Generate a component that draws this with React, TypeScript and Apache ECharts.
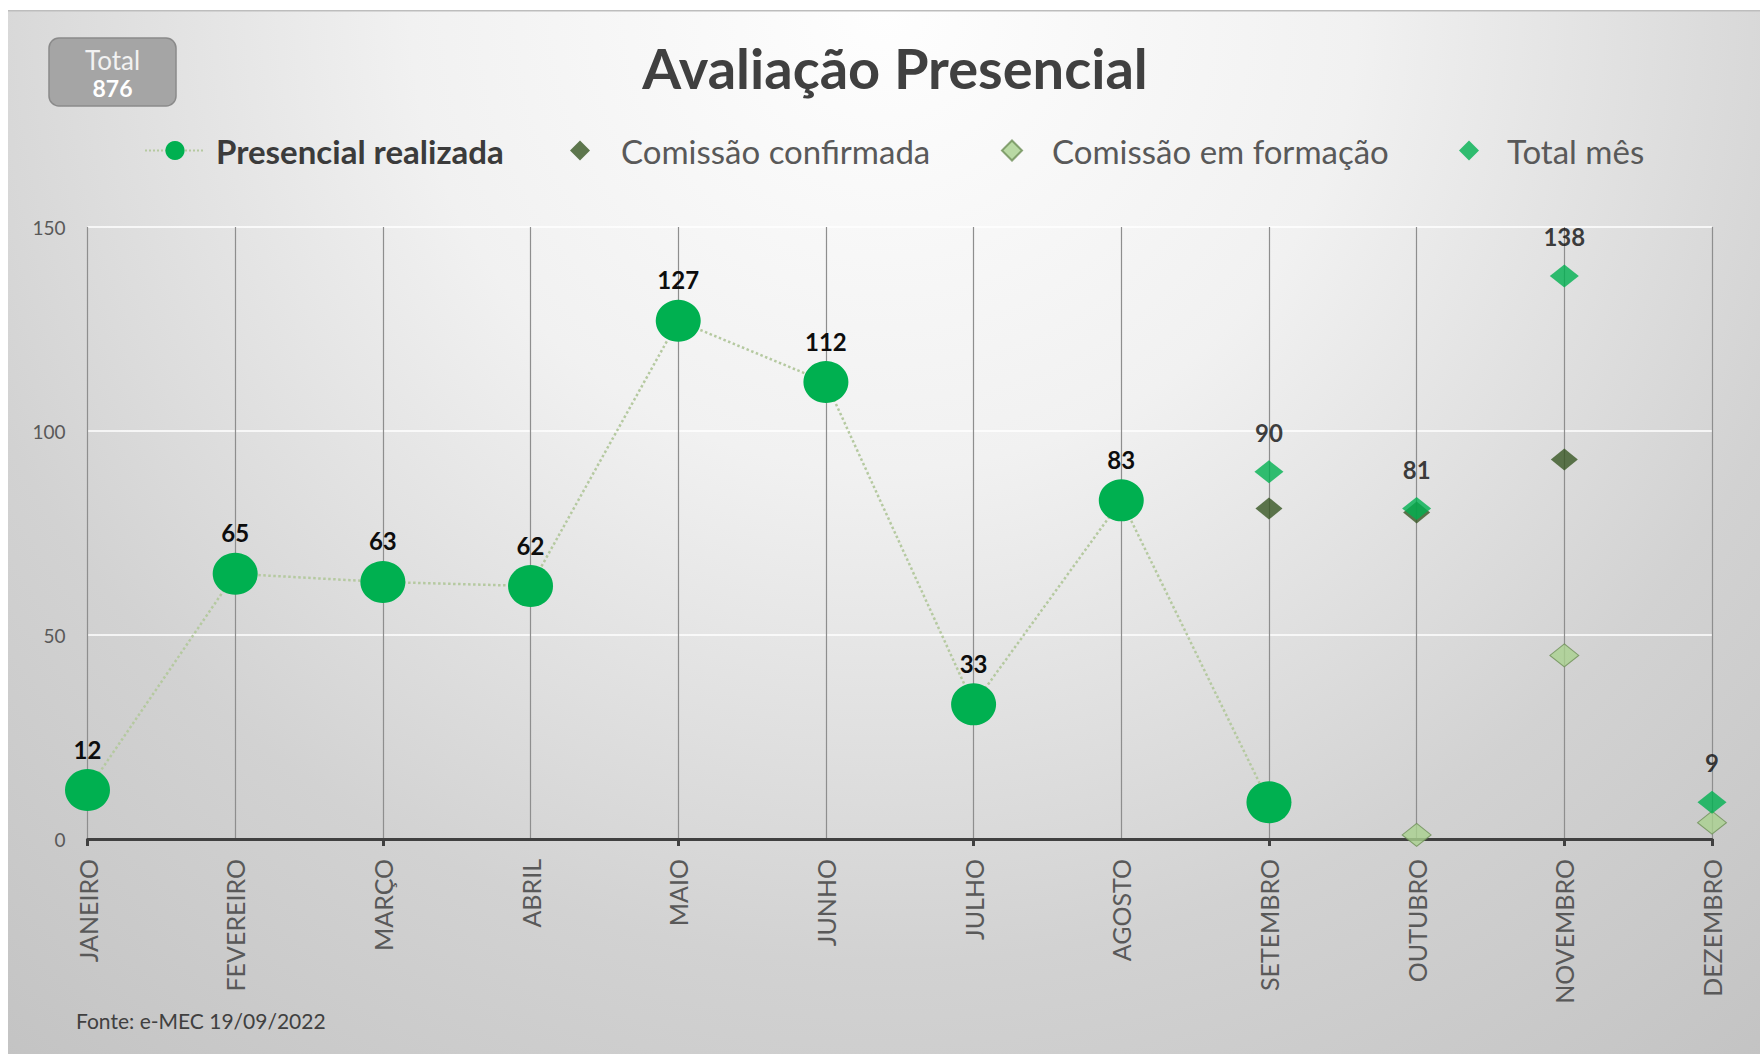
import React, { useEffect, useRef } from "react";
import * as echarts from "echarts";

const months = ["JANEIRO", "FEVEREIRO", "MARÇO", "ABRIL", "MAIO", "JUNHO", "JULHO", "AGOSTO", "SETEMBRO", "OUTUBRO", "NOVEMBRO", "DEZEMBRO"];
const presencial = [12, 65, 63, 62, 127, 112, 33, 83, 9, null, null, null];
const presencialShowLabel = [true, true, true, true, true, true, true, true, false, false, false, false];
const confirmada = [null, null, null, null, null, null, null, null, 81, 80, 93, null];
const formacao = [null, null, null, null, null, null, null, null, null, 1, 45, 4];
const totalMes = [null, null, null, null, null, null, null, null, 90, 81, 138, 9];
const yTicks = { min: 0, max: 150, interval: 50 };
const totalGeral = 876;
const FONT = "Lato";

export default function App() {
  const ref = useRef<HTMLDivElement>(null);
  useEffect(() => {
    document.body.style.margin = "0";
    const chart = echarts.init(ref.current!, null, { renderer: "svg" });
    const labelBase = { show: true, position: "top", color: "#0d0d0d", fontWeight: "bold", fontSize: 24, fontFamily: FONT };
    const legendText = (pad: number, bold = false) => ({
      fontSize: 33, fontWeight: bold ? "bold" : "normal", color: bold ? "#3b3b3b" : "#595959", fontFamily: FONT, padding: [0, 0, 0, pad],
    });
    chart.setOption({
      animation: false,
      textStyle: { fontFamily: FONT },
      grid: { left: 87.5, right: 48, top: 227, bottom: 215, containLabel: false },
      graphic: [
        {
          type: "rect", z: -10, silent: true,
          shape: { x: 8, y: 10, width: 1752, height: 1700 },
          style: {
            fill: new echarts.graphic.RadialGradient(0.5, 0, 1, [
              { offset: 0, color: "#fefefe" },
              { offset: 0.27, color: "#f1f1f1" },
              { offset: 0.56, color: "#d2d2d2" },
              { offset: 0.8, color: "#c3c3c3" },
              { offset: 1, color: "#bababa" },
            ]),
          },
        },
        { type: "rect", z: -9, silent: true, shape: { x: 8, y: 10, width: 1752, height: 1.5 }, style: { fill: "#bdbdbd" } },
        {
          type: "rect", z: 5, shape: { x: 49, y: 38, width: 127, height: 68, r: 10 },
          style: { fill: "#a5a5a5", stroke: "#8a8a8a", lineWidth: 1.5 },
        },
        { type: "text", z: 6, x: 112.5, y: 60, style: { text: "Total", fill: "#f2f2f2", fontSize: 26, fontFamily: FONT, align: "center", verticalAlign: "middle" } },
        { type: "text", z: 6, x: 112.5, y: 88, style: { text: String(totalGeral), fill: "#ffffff", fontSize: 23, fontWeight: "bold", fontFamily: FONT, align: "center", verticalAlign: "middle" } },
        { type: "text", z: 6, x: 895, y: 67, style: { text: "Avaliação Presencial", fill: "#404040", fontSize: 56, fontWeight: "bold", fontFamily: FONT, align: "center", verticalAlign: "middle" } },
        { type: "text", z: 6, x: 76, y: 1020, style: { text: "Fonte: e-MEC 19/09/2022", fill: "#404040", fontSize: 21, fontFamily: FONT, align: "left", verticalAlign: "middle" } },
      ],
      legend: [
        { data: ["Presencial realizada"], left: 144, top: 134, padding: 0, itemWidth: 60, itemHeight: 24, textStyle: legendText(6, true) },
        { data: ["Comissão confirmada"], left: 570, top: 134, padding: 0, itemWidth: 20, itemHeight: 20, textStyle: legendText(26) },
        { data: ["Comissão em formação"], left: 1001, top: 134, padding: 0, itemWidth: 20, itemHeight: 20, textStyle: legendText(25) },
        { data: ["Total mês"], left: 1459, top: 134, padding: 0, itemWidth: 20, itemHeight: 20, textStyle: legendText(23) },
      ],
      xAxis: {
        type: "category",
        data: months,
        boundaryGap: false,
        axisLine: { show: true, lineStyle: { color: "#404040", width: 3 } },
        axisTick: { show: true, interval: 1, length: 7, lineStyle: { color: "#404040", width: 3 } },
        axisLabel: { interval: 0, rotate: 90, margin: 20, fontSize: 25, color: "#595959", fontFamily: FONT },
        splitLine: { show: true, interval: 0, lineStyle: { color: "#8e8e8e", width: 1.2 } },
      },
      yAxis: {
        type: "value",
        min: yTicks.min, max: yTicks.max, interval: yTicks.interval,
        axisLine: { show: false },
        axisTick: { show: false },
        axisLabel: { fontSize: 19, color: "#595959", margin: 22, fontFamily: FONT },
        splitLine: { show: true, lineStyle: { color: "#ffffff", width: 1.5 } },
      },
      series: [
        {
          name: "Presencial realizada",
          type: "line",
          data: presencial.map((v, i) => ({ value: v, label: { show: presencialShowLabel[i] } })),
          symbol: "circle",
          symbolSize: [45, 42],
          itemStyle: { color: "#00b050" },
          lineStyle: { type: "dotted", color: "#b5c9a0", width: 2.5 },
          label: { ...labelBase, distance: 8 },
          z: 2,
        },
        {
          name: "Comissão confirmada",
          type: "scatter",
          data: confirmada,
          symbol: "diamond",
          symbolSize: [27, 22],
          itemStyle: { color: "#375623" },
          z: 3,
        },
        {
          name: "Comissão em formação",
          type: "scatter",
          data: formacao,
          symbol: "diamond",
          symbolSize: [29, 23],
          itemStyle: { color: "#a9d18e", borderColor: "#6e8f57", borderWidth: 1 },
          z: 4,
        },
        {
          name: "Total mês",
          type: "scatter",
          data: totalMes,
          symbol: "diamond",
          symbolSize: [29, 23],
          itemStyle: { color: "#00b050" },
          label: { ...labelBase, distance: 16 },
          z: 5,
        },
      ],
    });
    return () => chart.dispose();
  }, []);
  return <div ref={ref} style={{ width: 1760, height: 1054 }} />;
}
